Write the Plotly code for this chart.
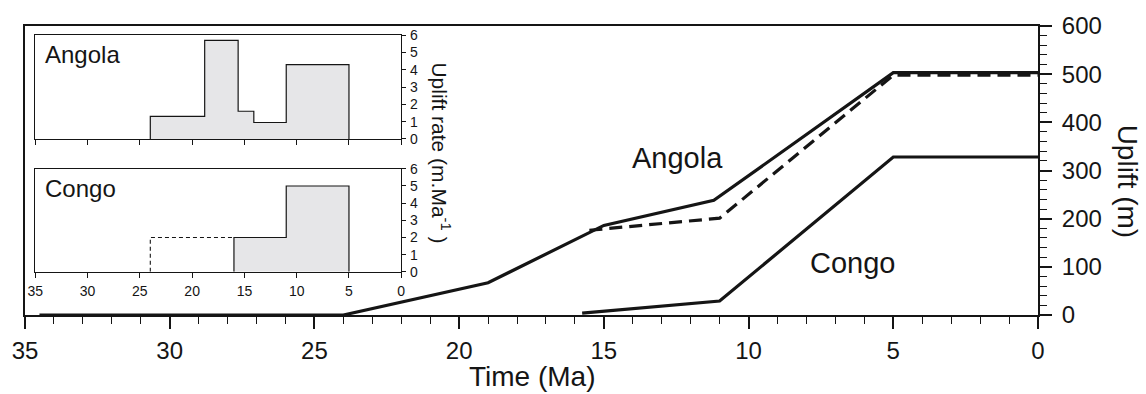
import plotly.graph_objects as go

# ---- main uplift curves (time in Ma, uplift in m) ----
angola_t = [34.5, 24, 19, 15, 11.2, 5, 0]
angola_u = [0, 0, 67, 186, 238, 503, 503]
angola_alt_t = [15.5, 11, 5, 0]
angola_alt_u = [176, 201, 498, 498]
congo_t = [15.75, 11, 5, 0]
congo_u = [4, 29, 328, 328]

# ---- inset uplift rates (m/Ma) ----
angola_rate_edges = [24, 18.8, 15.6, 14.1, 11, 5]
angola_rate = [1.3, 5.7, 1.6, 0.95, 4.3]
congo_rate_edges = [16, 11, 5]
congo_rate = [2, 5]
congo_rate_uncertain_edges = [24, 16]
congo_rate_uncertain = [2]

x_ticks_main = [35, 30, 25, 20, 15, 10, 5, 0]
y_ticks_main = [0, 100, 200, 300, 400, 500, 600]
y_ticks_inset = [0, 1, 2, 3, 4, 5, 6]

FONT = "Liberation Sans, Arial, Helvetica, sans-serif"
INK = "#151515"
FILL = "#e6e6e8"


def steps(edges, vals):
    xs = [edges[0], edges[0]]
    ys = [0, vals[0]]
    for e, v in zip(edges[1:-1], vals[1:]):
        xs.append(e)
        ys.append(v)
    xs += [edges[-1], edges[-1]]
    ys += [vals[-1], 0]
    return xs, ys


fig = go.Figure()

# main lines
fig.add_trace(go.Scatter(x=angola_t, y=angola_u, mode="lines",
                         line=dict(color=INK, width=3.2), xaxis="x", yaxis="y"))
fig.add_trace(go.Scatter(x=angola_alt_t, y=angola_alt_u, mode="lines",
                         line=dict(color=INK, width=3.2, dash="13px,7px"), xaxis="x", yaxis="y"))
fig.add_trace(go.Scatter(x=congo_t, y=congo_u, mode="lines",
                         line=dict(color=INK, width=3.2), xaxis="x", yaxis="y"))

# Angola inset histogram
ax, ay = steps(angola_rate_edges, angola_rate)
fig.add_trace(go.Scatter(x=ax, y=ay, mode="lines", line_shape="hv", fill="tozeroy",
                         fillcolor=FILL, line=dict(color=INK, width=1.2),
                         xaxis="x2", yaxis="y2"))

# Congo inset histogram
cx, cy = steps(congo_rate_edges, congo_rate)
fig.add_trace(go.Scatter(x=cx, y=cy, mode="lines", line_shape="hv", fill="tozeroy",
                         fillcolor=FILL, line=dict(color=INK, width=1.2),
                         xaxis="x3", yaxis="y3"))
ux = [congo_rate_uncertain_edges[0], congo_rate_uncertain_edges[0], congo_rate_uncertain_edges[1]]
uy = [0, congo_rate_uncertain[0], congo_rate_uncertain[0]]
fig.add_trace(go.Scatter(x=ux, y=uy, mode="lines",
                         line=dict(color=INK, width=1.1, dash="4px,3px"),
                         xaxis="x3", yaxis="y3"))

PL, PR, PT, PB = 23, 1038, 25, 315
W, H = 1146, 394


def px_x(p):
    return (p - PL) / (PR - PL)


def px_y(p):
    return (PB - p) / (PB - PT)


inset_x = [px_x(33.3), px_x(400)]
ang_y = [px_y(138.3), px_y(34.3)]
con_y = [px_y(271.7), px_y(168.3)]

axis_common = dict(showgrid=False, zeroline=False, linecolor=INK, tickcolor=INK,
                   color=INK)

fig.update_layout(
    width=W, height=H, autosize=False,
    margin=dict(l=PL, r=W - PR, t=PT, b=H - PB),
    paper_bgcolor="white", plot_bgcolor="white",
    showlegend=False,
    font=dict(family=FONT, color=INK),
    xaxis=dict(**axis_common, range=[35, 0], domain=[0, 1], anchor="y",
               tickvals=x_ticks_main, ticks="outside", ticklen=12, tickwidth=1.5,
               showline=True, linewidth=2, mirror=True,
               tickfont=dict(size=24), ticklabelstandoff=1,
               minor=dict(dtick=1, ticks="outside", ticklen=7, tickwidth=1.2, tickcolor=INK)),
    yaxis=dict(**axis_common, range=[0, 600], domain=[0, 1], anchor="x", side="right",
               tickvals=y_ticks_main, ticks="outside", ticklen=12, tickwidth=1.5,
               showline=True, linewidth=2, mirror=True,
               tickfont=dict(size=24), ticklabelstandoff=5,
               minor=dict(dtick=20, ticks="outside", ticklen=7, tickwidth=1.2, tickcolor=INK)),
    xaxis2=dict(**axis_common, range=[35, 0], domain=inset_x, anchor="y2",
                tickvals=x_ticks_main, ticks="outside", ticklen=5, tickwidth=1,
                showticklabels=False, showline=True, linewidth=1, mirror=True),
    yaxis2=dict(**axis_common, range=[0, 6], domain=ang_y, anchor="x2", side="right",
                tickvals=y_ticks_inset, ticks="outside", ticklen=4, tickwidth=1,
                showline=True, linewidth=1, mirror=True,
                tickfont=dict(size=14), ticklabelstandoff=1),
    xaxis3=dict(**axis_common, range=[35, 0], domain=inset_x, anchor="y3",
                tickvals=x_ticks_main, ticks="outside", ticklen=5, tickwidth=1,
                showline=True, linewidth=1, mirror=True,
                tickfont=dict(size=14), ticklabelstandoff=1),
    yaxis3=dict(**axis_common, range=[0, 6], domain=con_y, anchor="x3", side="right",
                tickvals=y_ticks_inset, ticks="outside", ticklen=4, tickwidth=1,
                showline=True, linewidth=1, mirror=True,
                tickfont=dict(size=14), ticklabelstandoff=1),
)

ann = [
    dict(text="Time (Ma)", x=px_x(531.7), y=px_y(377), xref="paper", yref="paper",
         xanchor="center", yanchor="middle", font=dict(size=28)),
    dict(text="Uplift (m)", x=px_x(1128), y=px_y(181), xref="paper", yref="paper",
         xanchor="center", yanchor="middle", textangle=90, font=dict(size=28)),
    dict(text="Uplift rate (m.Ma<sup>-1</sup> )", x=px_x(440), y=px_y(152), xref="paper",
         yref="paper", xanchor="center", yanchor="middle", textangle=90, font=dict(size=21)),
    dict(text="Angola", x=12.45, y=325, xref="x", yref="y", xanchor="center",
         yanchor="middle", font=dict(size=29)),
    dict(text="Congo", x=6.42, y=108, xref="x", yref="y", xanchor="center",
         yanchor="middle", font=dict(size=29)),
    dict(text="Angola", x=px_x(41), y=px_y(54), xref="paper", yref="paper",
         xanchor="left", yanchor="middle", font=dict(size=24)),
    dict(text="Congo", x=px_x(41), y=px_y(188), xref="paper", yref="paper",
         xanchor="left", yanchor="middle", font=dict(size=24)),
]
for a in ann:
    a["showarrow"] = False
    fig.add_annotation(**a)

fig.write_html("out.html")
